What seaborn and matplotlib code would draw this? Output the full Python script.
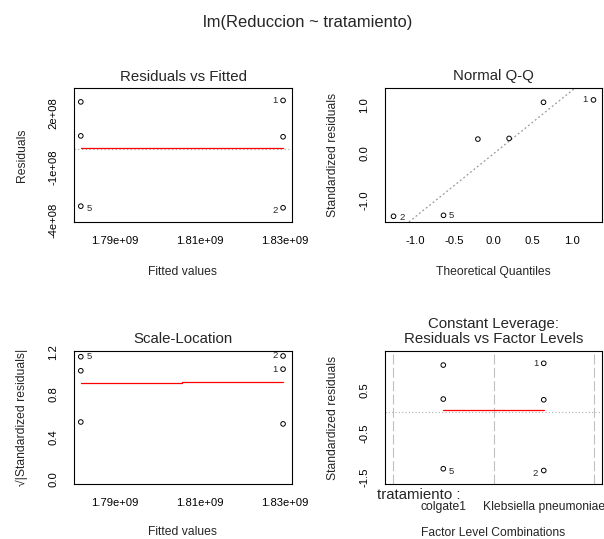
import numpy as np
import pandas as pd
import matplotlib
matplotlib.use("Agg")
import matplotlib.pyplot as plt
import seaborn as sns

sns.set_style("white")
plt.rcParams['font.family'] = ['Liberation Sans', 'DejaVu Sans']

# ---------------- data ----------------
obs_id = ["1", "2", "3", "4", "5", "6"]
group = ["Klebsiella pneumoniae", "Klebsiella pneumoniae", "Klebsiella pneumoniae",
         "colgate1", "colgate1", "colgate1"]
fitted = [1.8296e9, 1.8296e9, 1.8296e9, 1.7820e9, 1.7820e9, 1.7820e9]
residuals = [2.69e8, -3.28e8, 0.67e8, 2.61e8, -3.19e8, 0.72e8]

# Normal Q-Q (sorted)
qq_theoretical = [-1.28, -0.64, -0.20, 0.20, 0.64, 1.28]
qq_std_resid = [-1.33, -1.31, 0.288, 0.302, 1.06, 1.11]

# Scale-Location
sl_sqrt_std = [1.040, 1.165, 0.522, 1.025, 1.158, 0.540]
sl_line_x = [1.7820e9, 1.8058e9, 1.8296e9]
sl_line_y = [0.913, 0.922, 0.922]
rvf_line_y = [0.05e8, 0.05e8]

# Constant leverage
factor_levels = ["colgate1", "Klebsiella pneumoniae"]
lev_std_resid = [1.10, -1.34, 0.27, 1.06, -1.30, 0.286]
lev_line_y = [0.04, 0.04]

df = pd.DataFrame({"id": obs_id, "group": group, "fitted": fitted,
                   "resid": residuals, "sl": sl_sqrt_std, "lev": lev_std_resid})
df["level"] = df["group"].map({factor_levels[0]: 1, factor_levels[1]: 2})

W, H = 604, 539
fig = plt.figure(figsize=(W / 100, H / 100), dpi=100)

def add_ax(x0, y0, x1, y1):
    return fig.add_axes([x0 / W, 1 - y1 / H, (x1 - x0) / W, (y1 - y0) / H])

ax1 = add_ax(74, 87.5, 292, 222)
ax2 = add_ax(385, 87.5, 602, 222)
ax3 = add_ax(74, 351, 292, 484)
ax4 = add_ax(385, 351, 602, 484)

TICK_FS = 8.1
LAB_FS = 8.7
TITLE_FS = 10.8
ID_FS = 6.8

def style(ax):
    for s in ax.spines.values():
        s.set_visible(True)
        s.set_color("black")
        s.set_linewidth(0.8)
    ax.tick_params(axis="both", direction="out", length=5.3, width=0.8,
                   colors="black", labelsize=TICK_FS)
    ax.tick_params(axis="x", pad=5.0)
    ax.tick_params(axis="y", pad=6.0)
    for lab in ax.get_yticklabels():
        lab.set_rotation(90)
        lab.set_va("center")

def pts(ax, x, y):
    sns.scatterplot(x=x, y=y, ax=ax, marker="o", s=11, facecolor="none",
                    edgecolor="black", linewidth=0.7, legend=False, zorder=3)

def ylabel(ax, text):
    ax.set_ylabel(text, fontsize=LAB_FS, va="center")
    ax.yaxis.set_label_coords(-0.239, 0.5)

def xlabel(ax, text, y):
    ax.set_xlabel(text, fontsize=LAB_FS, va="center")
    ax.xaxis.set_label_coords(0.5, y)

def title(ax, text, y):
    ax.text(0.5, y, text, transform=ax.transAxes, ha="center", va="center",
            fontsize=TITLE_FS)

def idlab(ax, x, y, t, side, dy_pts=0):
    off = 4 if side == "right" else -4
    ax.annotate(t, (x, y), xytext=(off, dy_pts), textcoords="offset points",
                ha="left" if side == "right" else "right", va="center",
                fontsize=ID_FS, annotation_clip=False)

fit_ticks = [1.79e9, 1.80e9, 1.81e9, 1.82e9, 1.83e9]
fit_labels = ["1.79e+09", "", "1.81e+09", "", "1.83e+09"]

# ---------- Panel 1: Residuals vs Fitted ----------
ax1.axhline(0, color="#b0b0b0", linestyle=(0, (1, 2)), linewidth=0.9, zorder=1)
sns.lineplot(x=[fitted[3], fitted[0]], y=rvf_line_y, ax=ax1, color="red",
             linewidth=0.9, zorder=2)
pts(ax1, df["fitted"], df["resid"])
ax1.set_xlim(1.7804e9, 1.8317e9)
ax1.set_ylim(-4.07e8, 3.41e8)
ax1.set_xticks(fit_ticks)
ax1.set_xticklabels(fit_labels)
ax1.set_yticks([-4e8, -3e8, -2e8, -1e8, 0, 1e8, 2e8, 3e8])
ax1.set_yticklabels(["-4e+08", "", "", "-1e+08", "", "", "2e+08", ""])
style(ax1)
ylabel(ax1, "Residuals")
xlabel(ax1, "Fitted values", -0.373)
title(ax1, "Residuals vs Fitted", 1.08)
idlab(ax1, fitted[0], residuals[0], "1", "left")
idlab(ax1, fitted[1], residuals[1], "2", "left", -2)
idlab(ax1, fitted[4], residuals[4], "5", "right", -2)

# ---------- Panel 2: Normal Q-Q ----------
q_x = np.array([-0.6745, 0.6745])
q_y = np.quantile(qq_std_resid, [0.25, 0.75])
slope = (q_y[1] - q_y[0]) / (q_x[1] - q_x[0])
inter = q_y[0] - slope * q_x[0]
ax2.axline((0, inter), slope=slope, color="#999999", linestyle=(0, (1.5, 2)),
           linewidth=0.9, zorder=1)
pts(ax2, qq_theoretical, qq_std_resid)
ax2.set_xlim(-1.389, 1.389)
ax2.set_ylim(-1.45, 1.37)
ax2.set_xticks([-1.0, -0.5, 0.0, 0.5, 1.0])
ax2.set_xticklabels(["-1.0", "-0.5", "0.0", "0.5", "1.0"])
ax2.set_yticks([-1.0, -0.5, 0.0, 0.5, 1.0])
ax2.set_yticklabels(["-1.0", "", "0.0", "", "1.0"])
style(ax2)
ylabel(ax2, "Standardized residuals")
xlabel(ax2, "Theoretical Quantiles", -0.373)
title(ax2, "Normal Q-Q", 1.088)
idlab(ax2, qq_theoretical[0], qq_std_resid[0], "2", "right", -1)
idlab(ax2, qq_theoretical[1], qq_std_resid[1], "5", "right")
idlab(ax2, qq_theoretical[5], qq_std_resid[5], "1", "left")

# ---------- Panel 3: Scale-Location ----------
sns.lineplot(x=sl_line_x, y=sl_line_y, ax=ax3, color="red", linewidth=0.9,
             drawstyle="steps-post", zorder=2)
pts(ax3, df["fitted"], df["sl"])
ax3.set_xlim(1.7804e9, 1.8317e9)
ax3.set_ylim(-0.047, 1.212)
ax3.set_xticks(fit_ticks)
ax3.set_xticklabels(fit_labels)
ax3.set_yticks([0.0, 0.2, 0.4, 0.6, 0.8, 1.0, 1.2])
ax3.set_yticklabels(["0.0", "", "0.4", "", "0.8", "", "1.2"])
style(ax3)
ylabel(ax3, "\u221a|Standardized residuals|")
xlabel(ax3, "Fitted values", -0.361)
title(ax3, "Scale-Location", 1.09)
idlab(ax3, fitted[4], sl_sqrt_std[4], "5", "right")
idlab(ax3, fitted[1], sl_sqrt_std[1], "2", "left")
idlab(ax3, fitted[0], sl_sqrt_std[0], "1", "left")

# ---------- Panel 4: Constant Leverage ----------
for xv in [0.5, 1.5, 2.5]:
    ax4.axvline(xv, color="#c0c0c0", linestyle=(0, (9, 3)), linewidth=0.8, zorder=1)
ax4.axhline(0, color="#b0b0b0", linestyle=(0, (1, 2)), linewidth=0.8, zorder=1)
sns.lineplot(x=[1, 2], y=lev_line_y, ax=ax4, color="red", linewidth=0.9, zorder=2)
pts(ax4, df["level"], df["lev"])
ax4.set_xlim(0.42, 2.58)
ax4.set_ylim(-1.647, 1.38)
ax4.set_xticks([1, 2])
ax4.set_xticklabels(["", ""])
ax4.set_yticks([-1.5, -1.0, -0.5, 0.0, 0.5, 1.0])
ax4.set_yticklabels(["-1.5", "", "-0.5", "", "0.5", ""])
style(ax4)
ylabel(ax4, "Standardized residuals")
xlabel(ax4, "Factor Level Combinations", -0.368)
ax4.text(0.5, 1.20, "Constant Leverage:", transform=ax4.transAxes,
         ha="center", va="center", fontsize=TITLE_FS)
ax4.text(0.5, 1.09, "Residuals vs Factor Levels", transform=ax4.transAxes,
         ha="center", va="center", fontsize=TITLE_FS)
ax4.text(-0.037, -0.085, "tratamiento :", transform=ax4.transAxes,
         ha="left", va="center", fontsize=10.8)
for lv, name in zip([1, 2], factor_levels):
    ax4.annotate(name, (lv, 0), xycoords=("data", "axes fraction"),
                 xytext=(0, -16.5), textcoords="offset points",
                 ha="center", va="center", fontsize=TICK_FS + 0.6,
                 annotation_clip=False)
idlab(ax4, 2, lev_std_resid[0], "1", "left")
idlab(ax4, 2, lev_std_resid[1], "2", "left", -2)
idlab(ax4, 1, lev_std_resid[4], "5", "right", -2)

fig.text(308 / W, 1 - 23 / H, "lm(Reduccion ~ tratamiento)", ha="center",
         va="center", fontsize=11.9)

fig.savefig("out.png", dpi=100)
